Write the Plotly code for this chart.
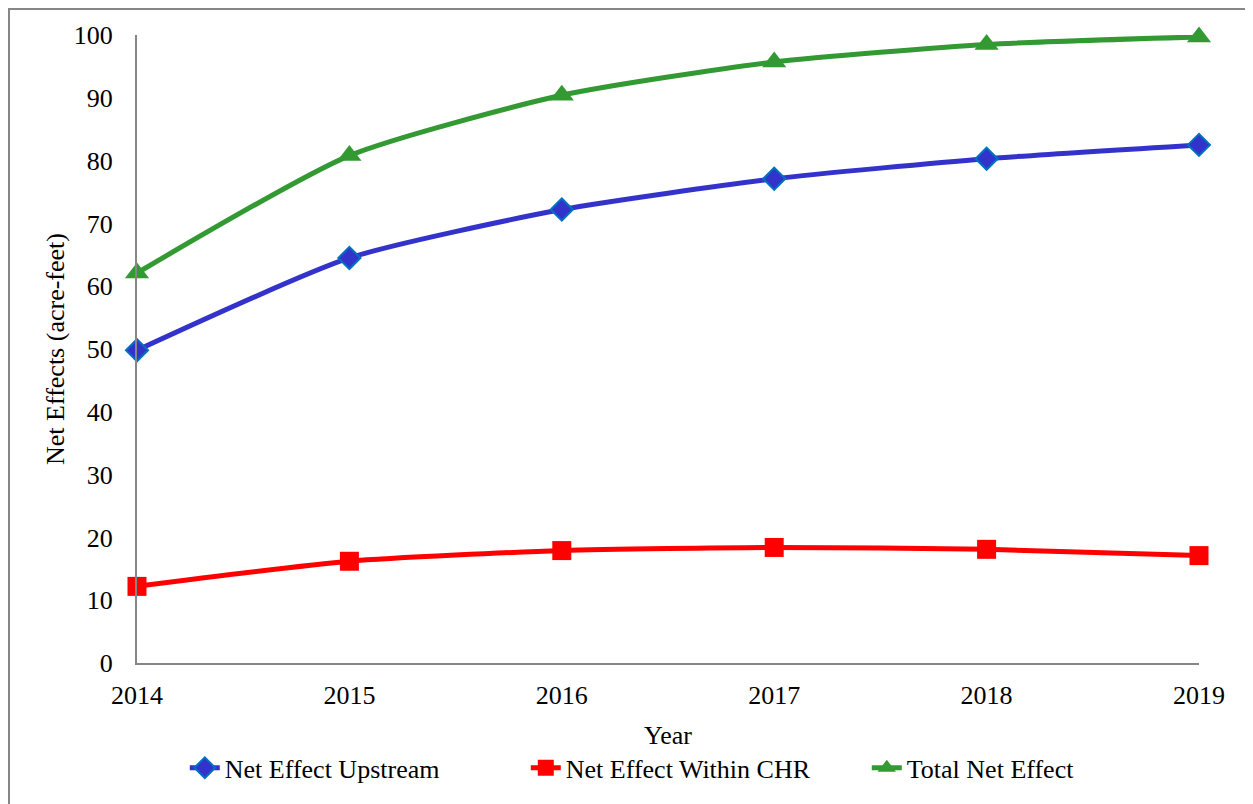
import plotly.graph_objects as go

years = [2014, 2015, 2016, 2017, 2018, 2019]
upstream = [49.8, 64.5, 72.2, 77.1, 80.3, 82.5]
within_chr = [12.2, 16.2, 17.9, 18.4, 18.1, 17.1]
total_net = [62.1, 80.8, 90.4, 95.7, 98.5, 99.7]

names = ["Net Effect Upstream", "Net Effect Within CHR", "Total Net Effect"]

FONT = "Liberation Serif"
FS = 26

fig = go.Figure()
fig.add_trace(go.Scatter(
    x=years, y=upstream, name=names[0], mode="lines+markers", cliponaxis=False,
    line=dict(color="#3333CC", width=5, shape="spline", smoothing=0.6),
    marker=dict(symbol="diamond", size=17, color="#3333CC",
                line=dict(color="#0070C0", width=2)),
))
fig.add_trace(go.Scatter(
    x=years, y=within_chr, name=names[1], mode="lines+markers", cliponaxis=False,
    line=dict(color="#FF0000", width=5, shape="spline", smoothing=0.6),
    marker=dict(symbol="square", size=19, color="#FF0000",
                line=dict(color="#FF0000", width=0)),
))
fig.add_trace(go.Scatter(
    x=years, y=total_net, name=names[2], mode="lines+markers", cliponaxis=False,
    line=dict(color="#339933", width=5, shape="spline", smoothing=0.6),
    marker=dict(symbol="triangle-up", size=21, color="#339933",
                line=dict(color="#339933", width=0)),
))

W, H = 1245, 796
L, R, T, B = 129, 54, 27, 141
pw, ph = W - L - R, H - T - B

fig.update_layout(
    width=W, height=H,
    margin=dict(l=L, r=R, t=T, b=B, autoexpand=False),
    paper_bgcolor="white", plot_bgcolor="white",
    font=dict(family=FONT, size=FS, color="black"),
    showlegend=True,
    legend=dict(orientation="h", x=0.045, xanchor="left", y=-0.167, yanchor="middle",
                entrywidth=296, entrywidthmode="pixels",
                font=dict(family=FONT, size=FS, color="black"),
                bgcolor="rgba(0,0,0,0)"),
    xaxis=dict(
        range=[2014, 2019], tickvals=years, ticktext=[str(y) for y in years],
        showgrid=False, zeroline=False, showline=True, linecolor="#868686", linewidth=2,
        ticks="", ticklabelstandoff=8,
        title=dict(text="Year", font=dict(family=FONT, size=FS), standoff=17),
    ),
    yaxis=dict(
        range=[0, 100], dtick=10, showgrid=False, zeroline=False,
        showline=True, linecolor="#868686", linewidth=2, ticks="",
        ticklabelstandoff=17,
        title=dict(text="Net Effects (acre-feet)", font=dict(family=FONT, size=FS), standoff=2),
    ),
    shapes=[dict(type="rect", xref="paper", yref="paper",
                 x0=(1 - L) / pw, x1=1.2, y0=-0.4, y1=(ph + T - 1) / ph,
                 line=dict(color="#868686", width=2), fillcolor="rgba(0,0,0,0)", layer="below")],
)

fig.write_html("out.html")
